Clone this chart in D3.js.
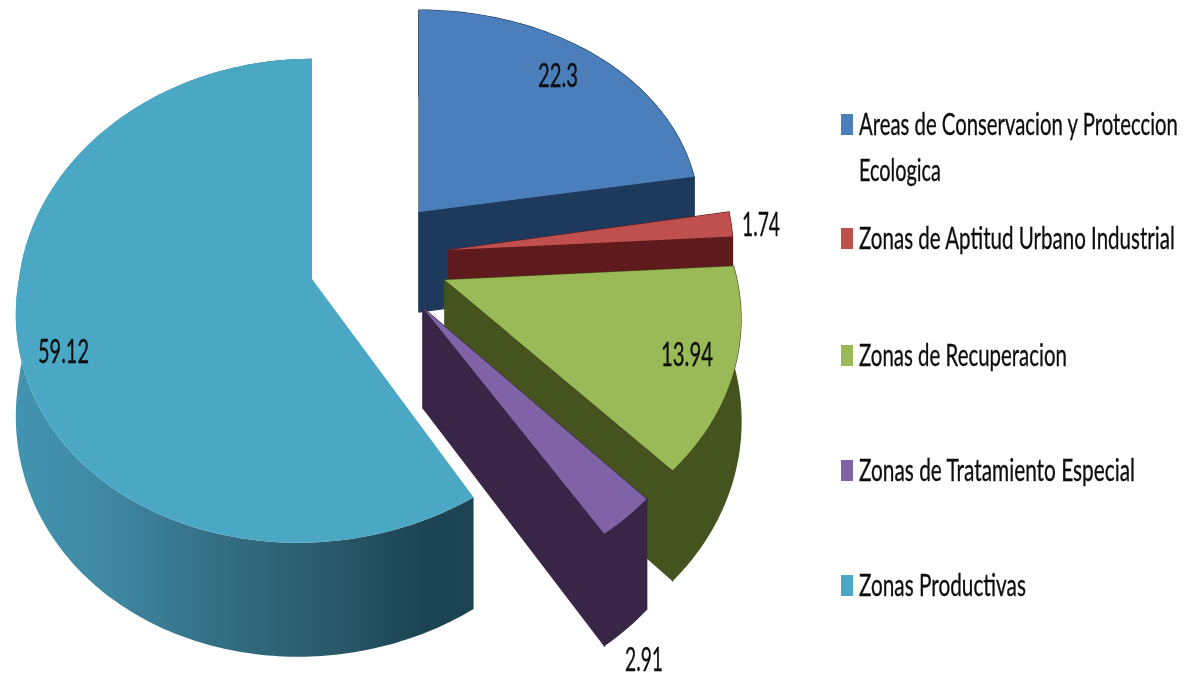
<!DOCTYPE html>
<html>
<head>
<meta charset="utf-8">
<script src="https://cdn.jsdelivr.net/npm/d3@7/dist/d3.min.js"></script>
<style>
html,body{margin:0;padding:0;background:#fff;}
svg{display:block;}
text{font-family:Lato,"Open Sans",sans-serif;fill:#0b0b0b;stroke:#0b0b0b;stroke-width:.3;}
</style>
</head>
<body>
<div id="chart"></div>
<script>
// Data
const categories = [
  "Areas de Conservacion y Proteccion Ecologica",
  "Zonas de Aptitud Urbano Industrial",
  "Zonas de Recuperacion",
  "Zonas de Tratamiento Especial",
  "Zonas Productivas"
];
const values = [22.3, 1.74, 13.94, 2.91, 59.12];
const valueLabels = ["22.3", "1.74", "13.94", "2.91", "59.12"];

// Styles
const topColors = ["#4b7fbc", "#c0504d", "#9aba58", "#8062a6", "#4aa8c4"];
const wallColors = ["#1d3a5c", "#5e1a1c", "#45531f", "#392546", "url(#cyanWall)"];
const cyanStops = [[0, "#4294b0"], [0.2, "#3f88a3"], [0.45, "#336e82"], [0.7, "#29586a"], [0.9, "#1c4351"], [1, "#1c4452"]];

// Perspective frame of every exploded slice (centre, radii, foreshortening, front shear)
const frames = [
  {cx: 419, cy: 212, bx: 280, ay: 210, kx: 0.02, ky: 0.04, sx: 0},
  {cx: 449, cy: 250, bx: 284, ay: 225, kx: 0, ky: 0, sx: 0},
  {cx: 445, cy: 280, bx: 292, ay: 230, kx: 0.165, ky: 0.165, sx: 0},
  {cx: 423, cy: 308, bx: 281, ay: 228, kx: 0.19, ky: 0.18, sx: 0},
  {cx: 312, cy: 279, bx: 293, ay: 240, kx: 0.1, ky: 0.09, sx: -14}
];
const drawOrder = [4, 0, 1, 2, 3];
const depthBase = 100, depthFront = 14;

// Text layout
const labelLayout = [
  {x: 538, y: 87, w: 40},
  {x: 742, y: 236, w: 38},
  {x: 661, y: 366, w: 52},
  {x: 625, y: 671, w: 38},
  {x: 38, y: 363, w: 51}
];
const legendLines = [
  [["Areas de Conservacion y Proteccion", 135, 319], ["Ecologica", 181, 82]],
  [["Zonas de Aptitud Urbano Industrial", 249, 316]],
  [["Zonas de Recuperacion", 366, 208]],
  [["Zonas de Tratamiento Especial", 481, 276]],
  [["Zonas Productivas", 596, 167]]
];
const legendX = 859, swatchX = 841, swatchW = 12, swatchH = 21;

const svg = d3.select("#chart").append("svg").attr("width", 1186).attr("height", 678);
const defs = svg.append("defs");
const grad = defs.append("linearGradient").attr("id", "cyanWall")
  .attr("gradientUnits", "userSpaceOnUse").attr("x1", 15).attr("x2", 474).attr("y1", 0).attr("y2", 0);
cyanStops.forEach(s => grad.append("stop").attr("offset", s[0]).attr("stop-color", s[1]));
defs.append("filter").attr("id", "soft").append("feGaussianBlur").attr("stdDeviation", 0.35);

const arcs = d3.pie().sort(null).startAngle(0).endAngle(2 * Math.PI)(values);
const line = d3.line().curve(d3.curveLinear);

function project(f, a, r, down) {
  const u = r * Math.sin(a), v = -r * Math.cos(a);
  const x = f.cx + f.bx * u / (1 - f.kx * v) + f.sx * Math.max(v, 0);
  const y = f.cy + f.ay * v / (1 - f.ky * v);
  return [x, y + (down ? depthBase + depthFront * v : 0)];
}
function sweep(d) {
  const n = Math.max(8, Math.ceil((d.endAngle - d.startAngle) * 60));
  return d3.range(n + 1).map(i => d.startAngle + (d.endAngle - d.startAngle) * i / n);
}

drawOrder.forEach(i => {
  const d = arcs[i], f = frames[i], g = svg.append("g");
  const as = sweep(d);
  const topArc = as.map(a => project(f, a, 1, false));
  const botArc = as.map(a => project(f, a, 1, true));
  const c = project(f, 0, 0, false), cb = project(f, 0, 0, true);
  const wall = wallColors[i];
  const strokeW = i === 4 ? 0 : 1.2;
  g.append("path").attr("d", line(topArc.concat(botArc.slice().reverse())) + "Z")
    .attr("fill", wall).attr("stroke", i === 4 ? "none" : wall).attr("stroke-width", strokeW);
  if (i !== 4) {
    [0, as.length - 1].forEach(k => {
      g.append("path").attr("d", line([c, topArc[k], botArc[k], cb]) + "Z")
        .attr("fill", wall).attr("stroke", wall).attr("stroke-width", strokeW);
    });
  }
  g.append("path").attr("d", line([c].concat(topArc)) + "Z").attr("fill", topColors[i]);
});

// Fit a real text run to a measured width by a horizontal scale
function fitted(sel, x, y, w) {
  const len = sel.node().getComputedTextLength();
  sel.attr("transform", `translate(${x},${y}) scale(${w / len},1)`);
}

const lb = svg.append("g").attr("filter", "url(#soft)");
valueLabels.forEach((t, i) => {
  const s = lb.append("text").attr("font-size", 33).text(t);
  fitted(s, labelLayout[i].x, labelLayout[i].y, labelLayout[i].w);
});

const lg = svg.append("g");
const lgText = lg.append("g").attr("filter", "url(#soft)");
categories.forEach((c, i) => {
  const first = legendLines[i][0];
  lg.append("rect").attr("x", swatchX).attr("y", first[1] - swatchH).attr("width", swatchW).attr("height", swatchH)
    .attr("fill", topColors[i]);
  legendLines[i].forEach(l => {
    const s = lgText.append("text").attr("font-size", 31).text(l[0]);
    fitted(s, legendX, l[1], l[2]);
  });
});
</script>
</body>
</html>
